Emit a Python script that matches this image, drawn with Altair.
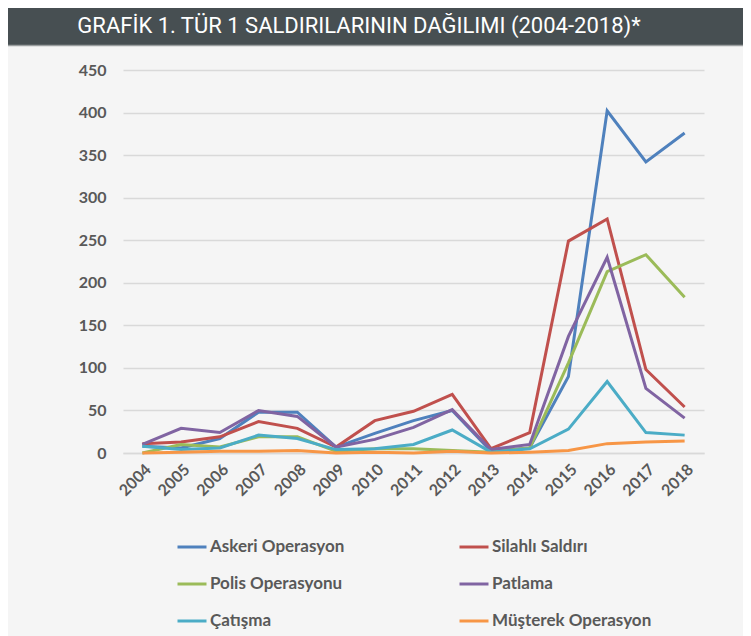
import altair as alt
import pandas as pd

years = [str(y) for y in range(2004, 2019)]
series = ["Askeri Operasyon", "Silahlı Saldırı", "Polis Operasyonu",
          "Patlama", "Çatışma", "Müşterek Operasyon"]
colors = ["#4F81BD", "#C0504D", "#9BBB59", "#8064A2", "#4BACC6", "#F79646"]

askeri = [8, 6, 17, 48, 48, 7, 23, 38, 50, 2, 6, 90, 402, 342, 376]
silahli = [11, 13, 19, 37, 29, 7, 38, 49, 69, 5, 24, 249, 275, 98, 54]
polis = [0, 10, 7, 19, 19, 2, 5, 5, 3, 1, 6, 106, 213, 233, 183]
patlama = [10, 29, 24, 50, 43, 7, 16, 30, 51, 4, 10, 137, 230, 76, 41]
catisma = [8, 4, 6, 21, 17, 4, 5, 10, 27, 1, 5, 28, 84, 24, 21]
musterek = [0, 1, 2, 2, 3, 0, 1, 0, 2, 0, 1, 3, 11, 13, 14]

title_text = "GRAFİK 1. TÜR 1 SALDIRILARININ DAĞILIMI (2004-2018)*"

values = [askeri, silahli, polis, patlama, catisma, musterek]
rows = []
for i, (name, vals) in enumerate(zip(series, values)):
    for y, v in zip(years, vals):
        rows.append({"Yıl": y, "Tür": name, "Sayı": v, "ord": i})
df = pd.DataFrame(rows)

W, H = 581, 383
FONT = "Lato"
GREY = "#595959"

lines = alt.Chart(df).mark_line(strokeWidth=3).encode(
    x=alt.X("Yıl:O", scale=alt.Scale(type="point", padding=0.5),
            axis=alt.Axis(title=None, labelAngle=-45, ticks=False, grid=False,
                          domainColor="#d9d9d9", domainWidth=1.5,
                          labelFont=FONT, labelFontWeight="bold", labelFontSize=16,
                          labelColor=GREY, labelPadding=8)),
    y=alt.Y("Sayı:Q", scale=alt.Scale(domain=[0, 450], nice=False),
            axis=alt.Axis(title=None, values=list(range(0, 451, 50)), ticks=False,
                          domain=False, gridColor="#d9d9d9", gridWidth=1.5,
                          labelFont=FONT, labelFontWeight="bold", labelFontSize=16,
                          labelColor=GREY, labelPadding=17)),
    color=alt.Color("Tür:N", scale=alt.Scale(domain=series, range=colors),
                    legend=alt.Legend(title=None, orient="none", legendX=53, legendY=461,
                                      direction="horizontal",
                                      columns=2, symbolType="stroke", symbolSize=841,
                                      symbolStrokeWidth=3, labelFont=FONT,
                                      labelFontWeight="bold", labelFontSize=17,
                                      labelColor=GREY, columnPadding=108,
                                      rowPadding=13, labelOffset=2, labelLimit=300)),
    order=alt.Order("ord:Q"),
)

banner_df = pd.DataFrame({"t": [title_text]})
banner = alt.Chart(banner_df).mark_rect(color="#474f52").encode(
    x=alt.value(-115), x2=alt.value(620), y=alt.value(-62), y2=alt.value(-25)
)
banner_line = alt.Chart(banner_df).mark_rule(color="#9a9e9f", strokeWidth=1.5).encode(
    x=alt.value(-115), x2=alt.value(620), y=alt.value(-24.5)
)
banner_text = alt.Chart(banner_df).mark_text(
    color="white", font="Roboto", fontSize=22, fontWeight=400,
    align="center", baseline="middle"
).encode(text="t:N", x=alt.value(236), y=alt.value(-44))

chart = alt.layer(banner, banner_line, banner_text, lines).properties(
    width=W, height=H,
    autosize=alt.AutoSizeParams(type="none"),
    padding={"left": 115, "right": 39, "top": 62, "bottom": 185},
).configure(background="#f5f5f5").configure_view(stroke=None)

chart.save("out.html", embed_options={"renderer": "svg", "actions": False})
